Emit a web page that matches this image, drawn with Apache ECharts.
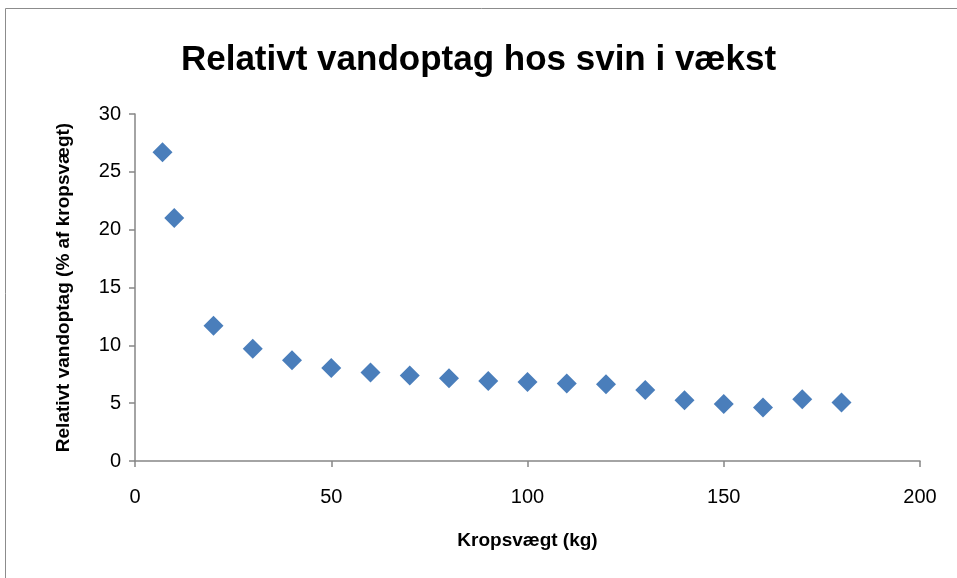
<!DOCTYPE html>
<html>
<head>
<meta charset="utf-8">
<script src="https://cdn.jsdelivr.net/npm/echarts@6/dist/echarts.min.js"></script>
<style>
  html, body { margin: 0; padding: 0; background: #fff; }
  #chart { width: 957px; height: 578px; }
</style>
</head>
<body>
<div id="chart"></div>
<script>
  var chartTitle = 'Relativt vandoptag hos svin i vækst';
  var xName = 'Kropsvægt (kg)';
  var yName = 'Relativt vandoptag (% af kropsvægt)';

  var weights = [7, 10, 20, 30, 40, 50, 60, 70, 80, 90, 100, 110, 120, 130, 140, 150, 160, 170, 180];
  var intake = [26.7, 21.0, 11.7, 9.7, 8.7, 8.05, 7.65, 7.4, 7.15, 6.92, 6.82, 6.7, 6.63, 6.14, 5.25, 4.93, 4.62, 5.34, 5.05];

  var pointColor = '#4a7ebb';
  var axisColor = '#868686';
  var font = 'Liberation Sans';

  var chart = echarts.init(document.getElementById('chart'));

  var points = weights.map(function (w, i) {
    return [w, intake[i]];
  });

  chart.setOption({
    animation: false,
    backgroundColor: '#fff',
    graphic: [{
      type: 'rect',
      shape: { x: 5.5, y: 8.5, width: 960, height: 580 },
      style: { fill: 'none', stroke: '#8c8c8c', lineWidth: 1 },
      silent: true
    }],
    title: {
      text: chartTitle,
      left: 'center',
      top: 38,
      textStyle: {
        fontFamily: font,
        fontSize: 35,
        fontWeight: 'bold',
        color: '#000'
      }
    },
    grid: {
      left: 135,
      right: 37,
      top: 114,
      bottom: 117
    },
    xAxis: {
      type: 'value',
      min: 0,
      max: 200,
      interval: 50,
      name: xName,
      nameLocation: 'middle',
      nameGap: 70,
      nameTextStyle: { fontFamily: font, fontSize: 19, fontWeight: 'bold', color: '#000' },
      axisLine: { lineStyle: { color: axisColor, width: 1.5 } },
      axisTick: { show: true, length: 6, lineStyle: { color: axisColor, width: 1.5 } },
      axisLabel: { fontFamily: font, fontSize: 20, color: '#000', margin: 26 },
      splitLine: { show: false }
    },
    yAxis: {
      type: 'value',
      min: 0,
      max: 30,
      interval: 5,
      name: yName,
      nameLocation: 'middle',
      nameGap: 62,
      nameTextStyle: { fontFamily: font, fontSize: 19, fontWeight: 'bold', color: '#000' },
      axisLine: { show: true, lineStyle: { color: axisColor, width: 1.5 } },
      axisTick: { show: true, length: 6, lineStyle: { color: axisColor, width: 1.5 } },
      axisLabel: { fontFamily: font, fontSize: 20, color: '#000', margin: 14 },
      splitLine: { show: false }
    },
    series: [{
      type: 'scatter',
      data: points,
      symbol: 'diamond',
      symbolSize: [20, 20],
      itemStyle: { color: pointColor, opacity: 1 }
    }]
  });
</script>
</body>
</html>
